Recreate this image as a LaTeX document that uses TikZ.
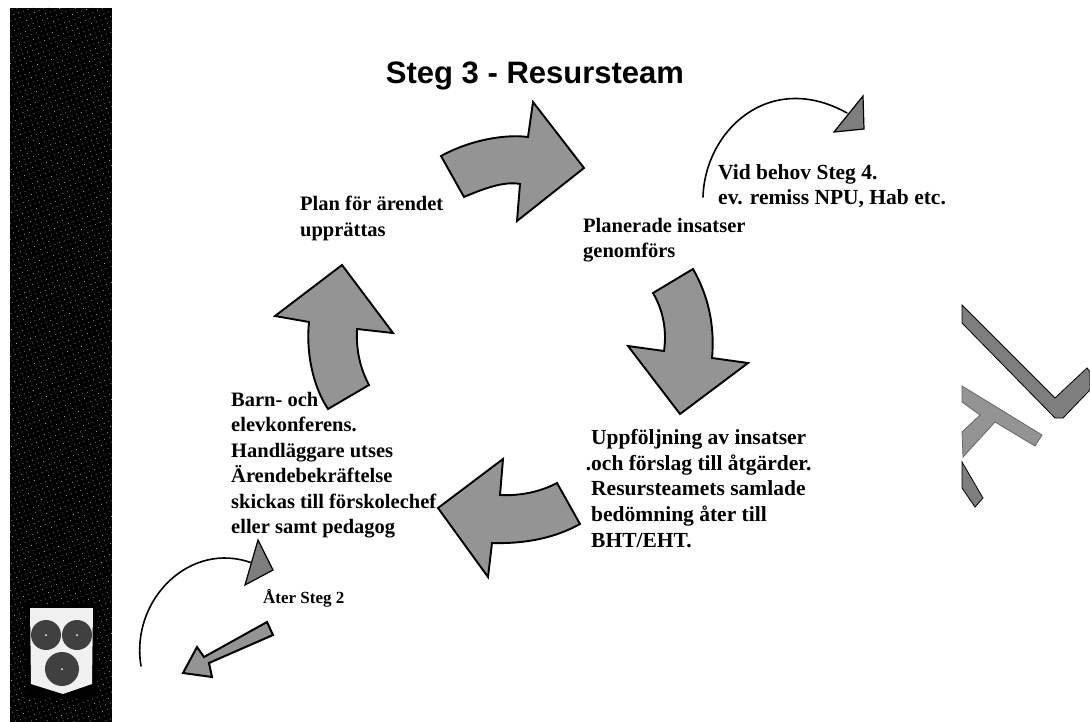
\documentclass[tikz,border=0pt]{standalone}
\usepackage{fontspec}
\usetikzlibrary{patterns.meta}
\setmainfont{Liberation Serif}
\newfontfamily\headfont{Liberation Sans}
\begin{document}
\begin{tikzpicture}[x=1pt,y=-1pt,
  bigarrow/.style={draw=black,line width=1.9pt,fill=arrowgray,line join=miter},
  arcline/.style={draw=black,line width=1.6pt,line cap=round},
  label/.style={anchor=north west,align=left,font=\fontsize{20.5pt}{25.5pt}\selectfont\bfseries,inner sep=0pt},
  widelabel/.style={label,font=\fontsize{21.5pt}{25.8pt}\selectfont\bfseries},
  smalllabel/.style={label,font=\fontsize{17pt}{20pt}\selectfont\bfseries},
  deco/.style={fill=arrowgray!85!black,draw=black,line width=0.8pt},
  decolight/.style={fill=arrowgray,draw=black!60,line width=0.8pt}]
\definecolor{arrowgray}{gray}{0.58}
\useasboundingbox (0,0) rectangle (1090,722);
\fill[white] (0,0) rectangle (1090,722);
\fill[black] (10,8) rectangle (112,722);
\fill[pattern={Dots[radius=0.45pt,distance=5pt,angle=20]},pattern color=white!80!black] (10,8) rectangle (112,722);
\fill[black] (26,604) rectangle (97,698);
\fill[black!6] (30,608) -- (93,608) -- (92,684) -- (63,694) -- (31,684) -- cycle;
\foreach \cx/\cy/\r in {46/635/15, 77/635/15, 62/669/17}{\fill[black!75] (\cx,\cy) circle (\r);\fill[white] (\cx,\cy) circle (1);}
\node[font=\headfont\bfseries\fontsize{31pt}{36pt}\selectfont,inner sep=0pt] (title) at (535,76) {Steg 3 - Resursteam};
\node[label] (plan) at (300,196) {Plan för ärendet\\upprättas};
\node[label] (planerade) at (583,218) {Planerade insatser\\genomförs};
\node[widelabel] (vid) at (718,164) {Vid behov Steg 4.\\ev. remiss NPU, Hab etc.};
\node[widelabel] (uppf) at (591,429) {Uppföljning av insatser\\\llap{.}och förslag till åtgärder.\\Resursteamets samlade\\bedömning åter till\\BHT/EHT.};
\node[label] (barn) at (231,392) {Barn- och\\elevkonferens.\\Handläggare utses\\Ärendebekräftelse\\skickas till förskolechef\\eller samt pedagog};
\node[smalllabel] (ater) at (263,589) {Åter Steg 2};
\draw[bigarrow] (441,156) .. controls (470,140) and (505,134) .. (528,137) -- (533,102) -- (584,168) -- (517,221) -- (520,184) .. controls (505,181) and (485,188) .. (464,197) -- cycle;
\draw[bigarrow] (342,265) -- (393,333) -- (357,329) .. controls (356,350) and (360,368) .. (369,385) -- (328,409) .. controls (312,385) and (306,350) .. (309,322) -- (275,316) -- cycle;
\draw[bigarrow] (438,508) -- (503,459) -- (500,495) .. controls (520,496) and (540,492) .. (557,483) -- (580,524) .. controls (555,538) and (525,544) .. (492,543) -- (488,577) -- cycle;
\draw[bigarrow] (628,346) -- (664,351) .. controls (667,330) and (663,310) .. (653,293) -- (693,269) .. controls (708,295) and (715,325) .. (712,358) -- (748,363) -- (680,414) -- cycle;
\draw[arcline] (703,197) .. controls (705,130) and (770,70) .. (847,113);
\draw[deco,line width=1.2pt] (863,96) -- (864,129) -- (834,132) -- cycle;
\draw[arcline] (141,666) .. controls (130,600) and (190,540) .. (252,563);
\draw[deco,line width=1.2pt] (258,540) -- (273,570) -- (245,585) -- cycle;
\draw[bigarrow,line width=2pt] (267,622) -- (273,635) -- (209,663) -- (212,677) -- (183,673) -- (197,647) -- (204,657) -- cycle;
\draw[deco] (962,305) -- (1055,398) -- (1087,368) -- (1090,372) -- (1090,390) -- (1063,418) -- (1055,418) -- (962,323) -- cycle;
\draw[decolight] (962,386) -- (1042,435) -- (1035,446) -- (995,422) -- (963,457) -- (962,432) -- (980,415) -- (962,402) -- cycle;
\draw[deco] (962,462) -- (983,498) -- (975,507) -- (962,488) -- cycle;
\end{tikzpicture}
\end{document}
